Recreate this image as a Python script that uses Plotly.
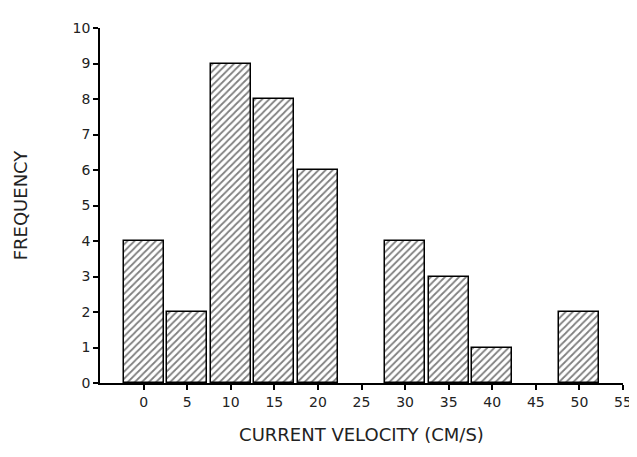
import plotly.graph_objects as go

# bin centres (cm/s) and counts
velocity = [0, 5, 10, 15, 20, 25, 30, 35, 40, 45, 50]
frequency = [4, 2, 9, 8, 6, 0, 4, 3, 1, 0, 2]

x_ticks = [0, 5, 10, 15, 20, 25, 30, 35, 40, 45, 50, 55]
y_ticks = list(range(0, 11))

font = "DejaVu Sans"

# empty bins get no outline so no stray line sits on the axis
outline = [1.5 if f > 0 else 0 for f in frequency]

fig = go.Figure(go.Bar(
    x=velocity,
    y=frequency,
    width=4.6,
    marker=dict(
        color="white",
        line=dict(color="black", width=outline),
        pattern=dict(shape="/", fgcolor="black", bgcolor="white", size=5, solidity=0.35),
    ),
))

fig.update_layout(
    width=637, height=457,
    margin=dict(l=92, r=22, t=20, b=82),
    paper_bgcolor="white", plot_bgcolor="white",
    showlegend=False,
    bargap=0,
    font=dict(family=font, color="#222"),
)

fig.update_xaxes(
    range=[-5, 55], tickvals=x_ticks, ticktext=[str(v) for v in x_ticks],
    showline=True, linecolor="black", linewidth=1.5,
    ticks="outside", ticklen=5, tickcolor="black", tickwidth=1.5,
    showgrid=False, zeroline=False,
    tickfont=dict(size=14, family=font),
    title=dict(text="CURRENT VELOCITY (CM/S)", font=dict(size=18, family=font), standoff=20),
)
fig.update_yaxes(
    range=[0, 10], tickvals=y_ticks,
    showline=True, linecolor="black", linewidth=1.5,
    ticks="outside", ticklen=5, tickcolor="black", tickwidth=1.5,
    showgrid=False, zeroline=False,
    tickfont=dict(size=14, family=font),
    title=dict(text="FREQUENCY", font=dict(size=18, family=font), standoff=40),
)

fig.write_html("out.html")
